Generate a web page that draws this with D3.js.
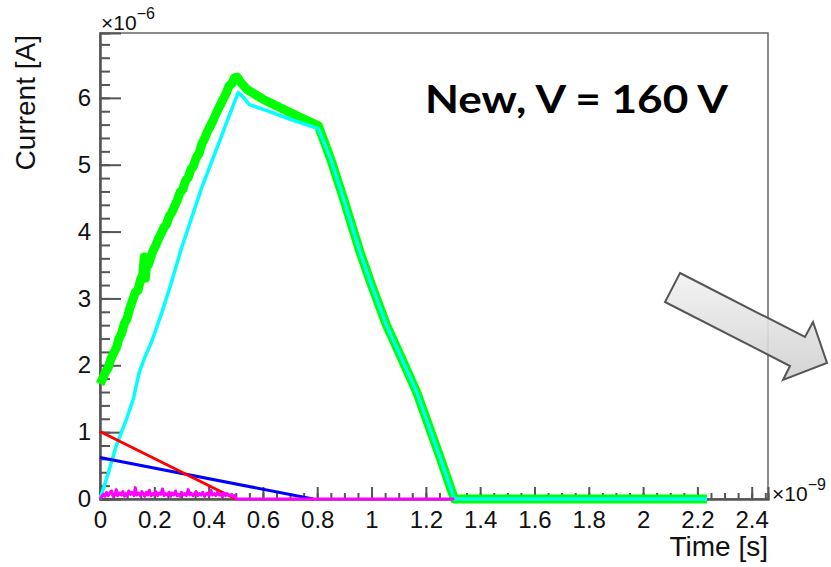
<!DOCTYPE html>
<html>
<head>
<meta charset="utf-8">
<script src="https://cdn.jsdelivr.net/npm/d3@7"></script>
<style>
  body { margin: 0; background: #fff; }
  svg { display: block; }
</style>
</head>
<body>
<svg id="chart" width="831" height="567"></svg>
<script>
'use strict'

// time in ns (x 10^-9 s), current in uA (x 10^-6 A)
var totalT = [0, 0.01, 0.02, 0.03, 0.04, 0.05, 0.06, 0.07, 0.08, 0.09, 0.1, 0.11, 0.12, 0.13, 0.14, 0.15, 0.158, 0.163, 0.167, 0.172, 0.178,
  0.185, 0.195, 0.205, 0.215, 0.225, 0.235, 0.245, 0.255, 0.265, 0.276, 0.285, 0.295, 0.305, 0.315, 0.325, 0.335, 0.344, 0.355,
  0.365, 0.375, 0.385, 0.395, 0.405, 0.415, 0.425, 0.435, 0.445, 0.455, 0.466, 0.475, 0.485, 0.495, 0.505, 0.515, 0.54, 0.6, 0.7,
  0.804, 0.85, 0.9, 0.957, 1.0, 1.055, 1.1, 1.166, 1.25, 1.305, 2.235]
var totalI = [1.72, 1.80, 1.90, 1.96, 2.09, 2.18, 2.26, 2.40, 2.48, 2.63, 2.70, 2.86, 2.97, 3.09, 3.12, 3.29, 3.36, 3.62, 3.30, 3.52, 3.50,
  3.59, 3.71, 3.79, 3.89, 3.97, 4.06, 4.11, 4.23, 4.29, 4.39, 4.47, 4.59, 4.63, 4.76, 4.81, 4.93, 4.98, 5.11, 5.17, 5.31, 5.39,
  5.49, 5.57, 5.65, 5.74, 5.83, 5.91, 5.99, 6.08, 6.18, 6.21, 6.30, 6.31, 6.25, 6.13, 5.98, 5.78,
  5.58, 5.08, 4.45, 3.70, 3.20, 2.60, 2.20, 1.60, 0.65, 0, 0]

var electronT = [0, 0.03, 0.06, 0.098, 0.123, 0.145, 0.166, 0.19, 0.227, 0.26, 0.3, 0.337, 0.374, 0.405, 0.44, 0.466, 0.509,
  0.53, 0.55, 0.62, 0.7, 0.804, 0.85, 0.9, 0.957, 1.0, 1.055, 1.1, 1.166, 1.25, 1.305, 2.235]
var electronI = [0, 0.38, 0.80, 1.20, 1.50, 1.90, 2.13, 2.35, 2.78, 3.20, 3.75, 4.20, 4.65, 4.98, 5.35, 5.63, 6.08,
  6.00, 5.90, 5.80, 5.68, 5.54, 5.08, 4.45, 3.70, 3.20, 2.60, 2.20, 1.60, 0.65, 0, 0]

var holeT = [0, 0.5]
var holeI = [1.01, 0]

var blueT = [0, 0.785]
var blueI = [0.62, 0]

var gainT = [0, 0.012, 0.018, 0.024, 0.03, 0.036, 0.042, 0.048, 0.055, 0.06, 0.065, 0.072, 0.078, 0.084, 0.09, 0.095, 0.1, 0.106,
  0.112, 0.118, 0.125, 0.13, 0.135, 0.142, 0.148, 0.154, 0.16, 0.165, 0.17, 0.176, 0.182, 0.188, 0.195, 0.2,
  0.205, 0.212, 0.218, 0.224, 0.23, 0.236, 0.242, 0.248, 0.255, 0.26, 0.265, 0.272, 0.278, 0.284, 0.29, 0.295,
  0.3, 0.306, 0.312, 0.318, 0.325, 0.33, 0.335, 0.342, 0.348, 0.354, 0.36, 0.366, 0.372, 0.378, 0.385, 0.39,
  0.395, 0.402, 0.408, 0.414, 0.42, 0.426, 0.432, 0.438, 0.445, 0.45, 0.455, 0.462, 0.468, 0.474, 0.48, 0.485,
  0.49, 0.496, 0.503, 1.305]
var gainI = [0, 0.07, 0.04, 0.10, 0.05, 0.09, 0.12, 0.04, 0.06, 0.14, 0.05, 0.09, 0.06, 0.11, 0.04, 0.08, 0.05, 0.12,
  0.07, 0.10, 0.05, 0.17, 0.06, 0.09, 0.05, 0.11, 0.07, 0.04, 0.10, 0.06, 0.13, 0.05, 0.08, 0.06,
  0.11, 0.05, 0.09, 0.07, 0.15, 0.05, 0.08, 0.06, 0.10, 0.04, 0.09, 0.06, 0.12, 0.05, 0.07, 0.04,
  0.10, 0.06, 0.08, 0.05, 0.14, 0.06, 0.09, 0.05, 0.07, 0.11, 0.05, 0.08, 0.06, 0.10, 0.04, 0.07,
  0.09, 0.05, 0.13, 0.06, 0.08, 0.05, 0.10, 0.06, 0.07, 0.04, 0.09, 0.05, 0.08, 0.06, 0.05, 0.07,
  0.04, 0.05, 0, 0]

var xTicks = [0, 0.2, 0.4, 0.6, 0.8, 1, 1.2, 1.4, 1.6, 1.8, 2, 2.2, 2.4]
var xTickLabels = ['0', '0.2', '0.4', '0.6', '0.8', '1', '1.2', '1.4', '1.6', '1.8', '2', '2.2', '2.4']
var yTicks = [0, 1, 2, 3, 4, 5, 6]
var yTickLabels = ['0', '1', '2', '3', '4', '5', '6']

var svg = d3.select('#chart'),
    margin = {top: 33, right: 63, bottom: 68, left: 100},
    width = svg.attr('width') - margin.left - margin.right,
    height = svg.attr('height') - margin.top - margin.bottom

var font = '"Liberation Sans", Arial, sans-serif'

var g = svg.append('g')
    .attr('transform', 'translate(' + margin.left + ',' + margin.top + ')')

var x = d3.scaleLinear().domain([0, 2.46]).range([0, width])
var y = d3.scaleLinear().domain([0, 6.97]).range([height, 0])

// frame
g.append('rect')
  .attr('width', width).attr('height', height)
  .attr('fill', 'none').attr('stroke', '#666').attr('stroke-width', 1.5)

// minor ticks
g.append('g')
  .attr('transform', 'translate(0,' + height + ')')
  .call(d3.axisBottom(x).tickValues(d3.range(0, 2.46, 0.05)).tickSize(-6).tickFormat(''))
g.append('g')
  .call(d3.axisLeft(y).tickValues(d3.range(0, 6.97, 0.2)).tickSize(-10).tickFormat(''))

// major ticks + labels
g.append('g')
  .attr('transform', 'translate(0,' + height + ')')
  .call(d3.axisBottom(x).tickValues(xTicks).tickSize(-12).tickPadding(12)
    .tickFormat((d, i) => xTickLabels[i]))
g.append('g')
  .call(d3.axisLeft(y).tickValues(yTicks).tickSize(-21).tickPadding(9)
    .tickFormat((d, i) => yTickLabels[i]))

g.selectAll('.domain').attr('stroke', '#555').attr('stroke-width', 2)
g.selectAll('.tick line').attr('stroke', '#555').attr('stroke-width', 2)
g.selectAll('.tick text')
  .style('font-family', font)
  .style('font-size', '24px')
  .style('fill', '#111')

var line = d3.line().x(d => x(d[0])).y(d => y(d[1]))
var pairs = (t, v) => t.map((d, i) => [d, v[i]])

function curve(t, v, color, w){
  g.append('path')
    .datum(pairs(t, v))
    .attr('d', line)
    .attr('fill', 'none')
    .attr('stroke', color)
    .attr('stroke-width', w)
    .attr('stroke-linejoin', 'round')
}

curve(totalT, totalI, '#00ff00', 9)
curve(electronT, electronI, '#00ffff', 3.5)
curve(blueT, blueI, '#0000ff', 3)
curve(holeT, holeI, '#ff0000', 3)
curve(gainT, gainI, '#ff00ff', 3)

// axis titles and exponents
svg.append('text')
  .attr('transform', 'translate(35,35) rotate(-90)')
  .attr('text-anchor', 'end')
  .attr('font-family', font).attr('font-size', 28).attr('fill', '#111')
  .text('Current [A]')
svg.append('text')
  .attr('x', 768).attr('y', 556)
  .attr('text-anchor', 'end')
  .attr('font-family', font).attr('font-size', 28).attr('fill', '#111')
  .text('Time [s]')

function exponent(px, py, e){
  let t = svg.append('text')
    .attr('x', px).attr('y', py)
    .attr('font-family', font).attr('font-size', 21).attr('fill', '#111')
  t.append('tspan').text('\u00d710')
  t.append('tspan').attr('font-size', 16).attr('dy', -11).text('\u2212' + e)
}
exponent(101, 30, 6)
exponent(772, 501, 9)

// label
svg.append('text')
  .attr('x', 425).attr('y', 113)
  .attr('font-family', 'Lato, "Open Sans", sans-serif')
  .attr('font-weight', 'bold').attr('font-size', 38)
  .attr('textLength', 303).attr('lengthAdjust', 'spacingAndGlyphs')
  .attr('fill', '#000')
  .text('New, V = 160 V')

// arrow
var defs = svg.append('defs')
var grad = defs.append('linearGradient').attr('id', 'arrowFill')
  .attr('x1', 0).attr('y1', 0).attr('x2', 0).attr('y2', 1)
grad.append('stop').attr('offset', '0%').attr('stop-color', '#f2f2f2')
grad.append('stop').attr('offset', '100%').attr('stop-color', '#cfcfcf')

svg.append('polygon')
  .attr('points', '680,273 805,337 813,322 827,363 783,380 790,366 665,302')
  .attr('fill', 'url(#arrowFill)')
  .attr('fill-opacity', 0.9)
  .attr('stroke', '#555')
  .attr('stroke-width', 2)
  .attr('stroke-linejoin', 'miter')
</script>
</body>
</html>
